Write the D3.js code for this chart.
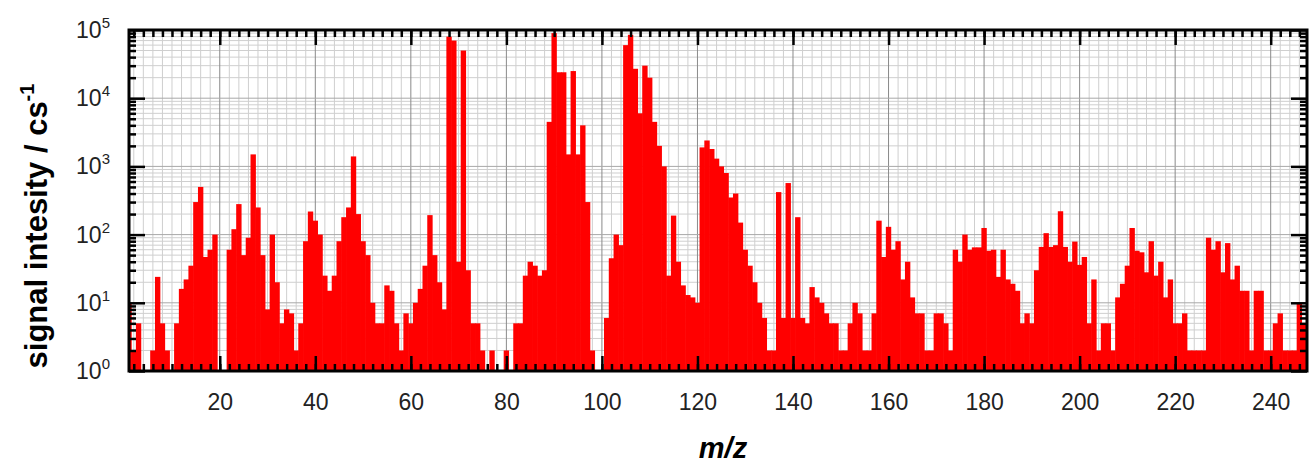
<!DOCTYPE html>
<html>
<head>
<meta charset="utf-8">
<script src="https://cdn.jsdelivr.net/npm/d3@7"></script>
<style>
  body { margin: 0; background: #fff; }
  svg { display: block; font-family: "Liberation Sans", Arial, sans-serif; }
</style>
</head>
<body>
<svg id="chart" width="1309" height="465"></svg>
<script>
// m/z axis (unit mass bins) and measured signal, counts per second
var mzStart = 1;
var intensity = [
  10, 2, 5, 0, 0, 2, 24, 5, 2, 0,                       // 1-10
  5, 16, 22, 35, 300, 500, 47, 60, 100, 0,              // 11-20
  0, 60, 120, 280, 50, 90, 1500, 250, 50, 8,            // 21-30
  100, 20, 5, 8, 7, 2, 5, 80, 218, 160,                 // 31-40
  100, 25, 15, 25, 80, 180, 250, 1400, 200, 80,         // 41-50
  50, 10, 5, 5, 18, 15, 5, 2, 7, 5,                     // 51-60
  10, 16, 35, 193, 50, 20, 8, 80000, 70000, 40,         // 61-70
  50000, 30, 5, 5, 2, 0, 2, 0, 0, 2,                    // 71-80
  0, 5, 5, 25, 40, 35, 25, 30, 4500, 90000,             // 81-90
  24000, 24000, 1500, 25000, 1500, 4000, 300, 2, 0, 0,  // 91-100
  6, 45, 100, 70, 60000, 85000, 27000, 6000, 30000, 20000, // 101-110
  4500, 2000, 1000, 25, 190, 40, 18, 13, 12, 10,        // 111-120
  1900, 2400, 1800, 1300, 1000, 800, 350, 400, 150, 60, // 121-130
  35, 20, 10, 6, 2, 2, 420, 6, 570, 6,                  // 131-140
  180, 6, 5, 17, 12, 10, 7, 5, 5, 2,                    // 141-150
  2, 5, 10, 7, 2, 2, 7, 160, 47, 130,                   // 151-160
  60, 80, 22, 40, 12, 7, 7, 2, 2, 7,                    // 161-170
  7, 5, 2, 60, 40, 100, 60, 65, 65, 125,                // 171-180
  58, 60, 24, 60, 22, 19, 15, 5, 7, 5,                  // 181-190
  30, 66, 105, 66, 70, 220, 66, 40, 79, 36,             // 191-200
  47, 5, 22, 2, 5, 5, 2, 12, 19, 35,                    // 201-210
  125, 58, 55, 28, 80, 25, 40, 12, 22, 5,               // 211-220
  5, 7, 2, 2, 2, 2, 90, 60, 80, 28,                     // 221-230
  75, 22, 35, 15, 15, 2, 15, 15, 2, 2,                  // 231-240
  5, 7, 2, 2, 2, 10, 5                                  // 241-247
];
var xTicks = [20, 40, 60, 80, 100, 120, 140, 160, 180, 200, 220, 240];
var yDecades = [0, 1, 2, 3, 4, 5];

var svg = d3.select("#chart");
var pL = 129, pR = 1307, pT = 30, pB = 371;

var x = d3.scaleLinear().domain([1, 247.6]).range([pL, pR]);
var y = d3.scaleLog().domain([1, 1e5]).range([pB, pT]);

var data = intensity.map(function(v, i) { return { mz: mzStart + i, v: v }; });

// clip
svg.append("clipPath").attr("id", "plot")
  .append("rect").attr("x", pL).attr("y", pT)
  .attr("width", pR - pL).attr("height", pB - pT);

// grid
var grid = svg.append("g").attr("clip-path", "url(#plot)");
var minorX = d3.range(2, 248, 2).filter(function(d) { return d % 20 !== 0; });
grid.selectAll(".gx").data(minorX).enter().append("line")
  .attr("x1", x).attr("x2", x).attr("y1", pT).attr("y2", pB)
  .attr("stroke", "#cfcfcf").attr("stroke-width", 1);
var minorY = [];
yDecades.slice(0, -1).forEach(function(k) {
  d3.range(2, 10).forEach(function(j) { minorY.push(j * Math.pow(10, k)); });
});
grid.selectAll(".gy").data(minorY).enter().append("line")
  .attr("x1", pL).attr("x2", pR).attr("y1", y).attr("y2", y)
  .attr("stroke", "#cfcfcf").attr("stroke-width", 1);
grid.selectAll(".gxm").data(xTicks).enter().append("line")
  .attr("x1", x).attr("x2", x).attr("y1", pT).attr("y2", pB)
  .attr("stroke", "#8a8a8a").attr("stroke-width", 1);
grid.selectAll(".gym").data(yDecades).enter().append("line")
  .attr("x1", pL).attr("x2", pR)
  .attr("y1", function(k) { return y(Math.pow(10, k)); })
  .attr("y2", function(k) { return y(Math.pow(10, k)); })
  .attr("stroke", "#a8a8a8").attr("stroke-width", 1);

// bars (slightly widened so neighbouring bins join without hairline gaps)
svg.append("g").attr("clip-path", "url(#plot)")
  .selectAll("rect").data(data.filter(function(d) { return d.v >= 1; }))
  .enter().append("rect")
  .attr("x", function(d) { return x(d.mz - 0.5) - 0.3; })
  .attr("width", function(d) { return x(d.mz + 0.5) - x(d.mz - 0.5) + 0.6; })
  .attr("y", function(d) { return y(d.v); })
  .attr("height", function(d) { return pB - y(d.v); })
  .attr("fill", "#ff0000");

// axes : ticks pointing inward
function styleAxis(g) {
  g.select(".domain").remove();
  g.selectAll(".tick line").attr("stroke", "#000").attr("stroke-width", 2.5);
}
var xMinorTicks = d3.range(2, 248, 2);
var yMinorTicks = minorY;
var yMajorTicks = yDecades.map(function(k) { return Math.pow(10, k); });

svg.append("g").attr("transform", "translate(0," + pB + ")")
  .call(d3.axisBottom(x).tickValues(xMinorTicks).tickSize(-7).tickFormat(""))
  .call(styleAxis);
svg.append("g").attr("transform", "translate(0," + pT + ")")
  .call(d3.axisTop(x).tickValues(xMinorTicks).tickSize(-7).tickFormat(""))
  .call(styleAxis);
var xb = svg.append("g").attr("transform", "translate(0," + pB + ")")
  .call(d3.axisBottom(x).tickValues(xTicks).tickSize(-15).tickPadding(23).tickFormat(d3.format("d")))
  .call(styleAxis);
xb.attr("font-size", null).attr("font-family", null);
xb.selectAll("text").style("font-size", "23px").attr("fill", "#222");
svg.append("g").attr("transform", "translate(0," + pT + ")")
  .call(d3.axisTop(x).tickValues(xTicks).tickSize(-15).tickFormat(""))
  .call(styleAxis);

svg.append("g").attr("transform", "translate(" + pL + ",0)")
  .call(d3.axisLeft(y).tickValues(yMinorTicks).tickSize(-7).tickFormat(""))
  .call(styleAxis);
svg.append("g").attr("transform", "translate(" + pL + ",0)")
  .call(d3.axisLeft(y).tickValues(yMajorTicks).tickSize(-16).tickFormat(""))
  .call(styleAxis);
svg.append("g").attr("transform", "translate(" + pR + ",0)")
  .call(d3.axisRight(y).tickValues(yMinorTicks).tickSize(-7).tickFormat(""))
  .call(styleAxis);
svg.append("g").attr("transform", "translate(" + pR + ",0)")
  .call(d3.axisRight(y).tickValues(yMajorTicks).tickSize(-16).tickFormat(""))
  .call(styleAxis);

// y tick labels 10^k
var yl = svg.append("g").selectAll("text").data(yDecades).enter().append("text")
  .attr("x", 110)
  .attr("y", function(k) { return y(Math.pow(10, k)) + 8; })
  .attr("text-anchor", "end")
  .attr("fill", "#222")
  .attr("font-size", 23);
yl.append("tspan").text("10");
yl.append("tspan").attr("dy", -10).attr("font-size", 15).text(function(k) { return k; });

// frame
svg.append("rect").attr("x", pL).attr("y", pT)
  .attr("width", pR - pL).attr("height", pB - pT)
  .attr("fill", "none").attr("stroke", "#000").attr("stroke-width", 3);

// titles
var yt = svg.append("text")
  .attr("transform", "translate(47,226) rotate(-90)")
  .attr("text-anchor", "middle")
  .attr("font-size", 31).attr("font-weight", "bold").attr("fill", "#000");
yt.append("tspan").text("signal intesity / cs");
yt.append("tspan").attr("dy", -13).attr("font-size", 20).text("-1");

svg.append("text")
  .attr("x", 723).attr("y", 458)
  .attr("text-anchor", "middle")
  .attr("font-size", 29).attr("font-weight", "bold").attr("font-style", "italic")
  .attr("fill", "#000").text("m/z");
</script>
</body>
</html>
